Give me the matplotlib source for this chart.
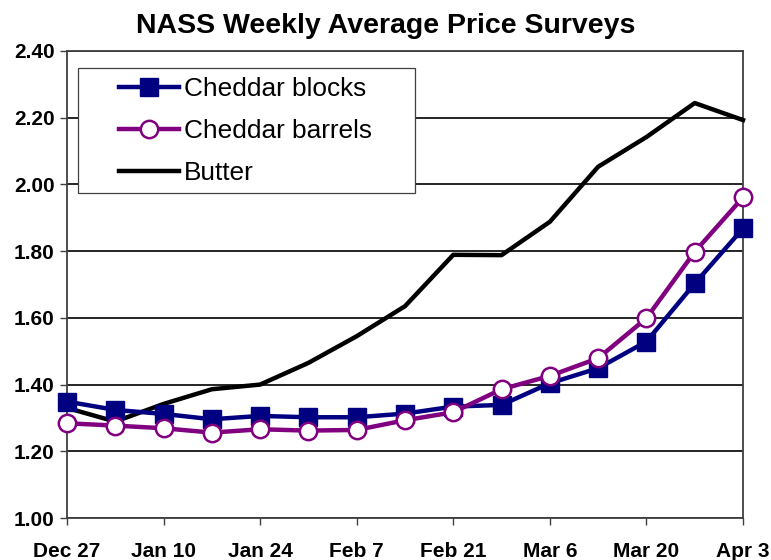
import matplotlib
matplotlib.use("Agg")
from matplotlib import pyplot as plt
from matplotlib.patches import Rectangle

plt.rcParams['font.family'] = ['Liberation Sans', 'DejaVu Sans']

weeks = ['Dec 27', 'Jan 3', 'Jan 10', 'Jan 17', 'Jan 24', 'Jan 31', 'Feb 7', 'Feb 14',
         'Feb 21', 'Feb 28', 'Mar 6', 'Mar 13', 'Mar 20', 'Mar 27', 'Apr 3']
blocks = [1.349, 1.324, 1.312, 1.296, 1.306, 1.302, 1.302, 1.313,
          1.334, 1.339, 1.404, 1.449, 1.529, 1.703, 1.868]
barrels = [1.284, 1.277, 1.269, 1.256, 1.266, 1.262, 1.264, 1.293,
           1.317, 1.386, 1.426, 1.479, 1.599, 1.798, 1.961]
butter = [1.330, 1.289, 1.342, 1.386, 1.400, 1.465, 1.545, 1.635,
          1.789, 1.788, 1.888, 2.053, 2.142, 2.244, 2.193]

x = list(range(len(weeks)))
W, H = 771, 560

fig = plt.figure(figsize=(7.71, 5.6), dpi=100)
ax = fig.add_axes([67 / W, 1 - 518 / H, (743 - 67) / W, (518 - 51) / H])

ax.plot(x, blocks, color='#000080', lw=3.2, marker='s', ms=12.5,
        mfc='#000080', mec='#000080', label='Cheddar blocks', zorder=4, clip_on=False)
ax.plot(x, barrels, color='#800080', lw=3.2, marker='o', ms=12.5,
        mfc='white', mec='#800080', mew=1.8, label='Cheddar barrels', zorder=5, clip_on=False)
ax.plot(x, butter, color='black', lw=3.2, label='Butter', zorder=3, clip_on=False)

ax.set_xlim(0, len(weeks) - 1)
ax.set_ylim(1.0, 2.4)
ax.set_yticks([1.0, 1.2, 1.4, 1.6, 1.8, 2.0, 2.2, 2.4])
ax.set_yticklabels(['%.2f' % v for v in ax.get_yticks()], fontweight='bold', fontsize=15)
ax.set_xticks(x[::2])
ax.set_xticklabels(weeks[::2], fontweight='bold', fontsize=15)
ax.tick_params(axis='both', direction='out', length=5, width=1, color='#404040')
ax.tick_params(axis='x', pad=12)
ax.tick_params(axis='y', pad=4)

ax.grid(axis='y', color='black', lw=1.2, zorder=1)
for s in ax.spines.values():
    s.set_color('#404040')
    s.set_linewidth(1.3)

fig.text(0.5, 1 - 33 / H, 'NASS Weekly Average Price Surveys', fontsize=20.5,
         fontweight='bold', ha='center', va='baseline')

# legend box drawn separately, Excel-style wide left margin
ax.add_patch(Rectangle((78 / W, 1 - 193 / H), (415 - 78) / W, (193 - 68) / H,
                       transform=fig.transFigure, fc='white', ec='#404040', lw=0.9,
                       zorder=2, clip_on=False))
leg = ax.legend(loc='upper left', bbox_to_anchor=(119 / W, 1 - 77 / H),
                bbox_transform=fig.transFigure, fontsize=18.9, frameon=False,
                handlelength=2.28, handletextpad=0.2, borderpad=0, labelspacing=0.68,
                borderaxespad=0)

fig.savefig('out.png', dpi=100)
